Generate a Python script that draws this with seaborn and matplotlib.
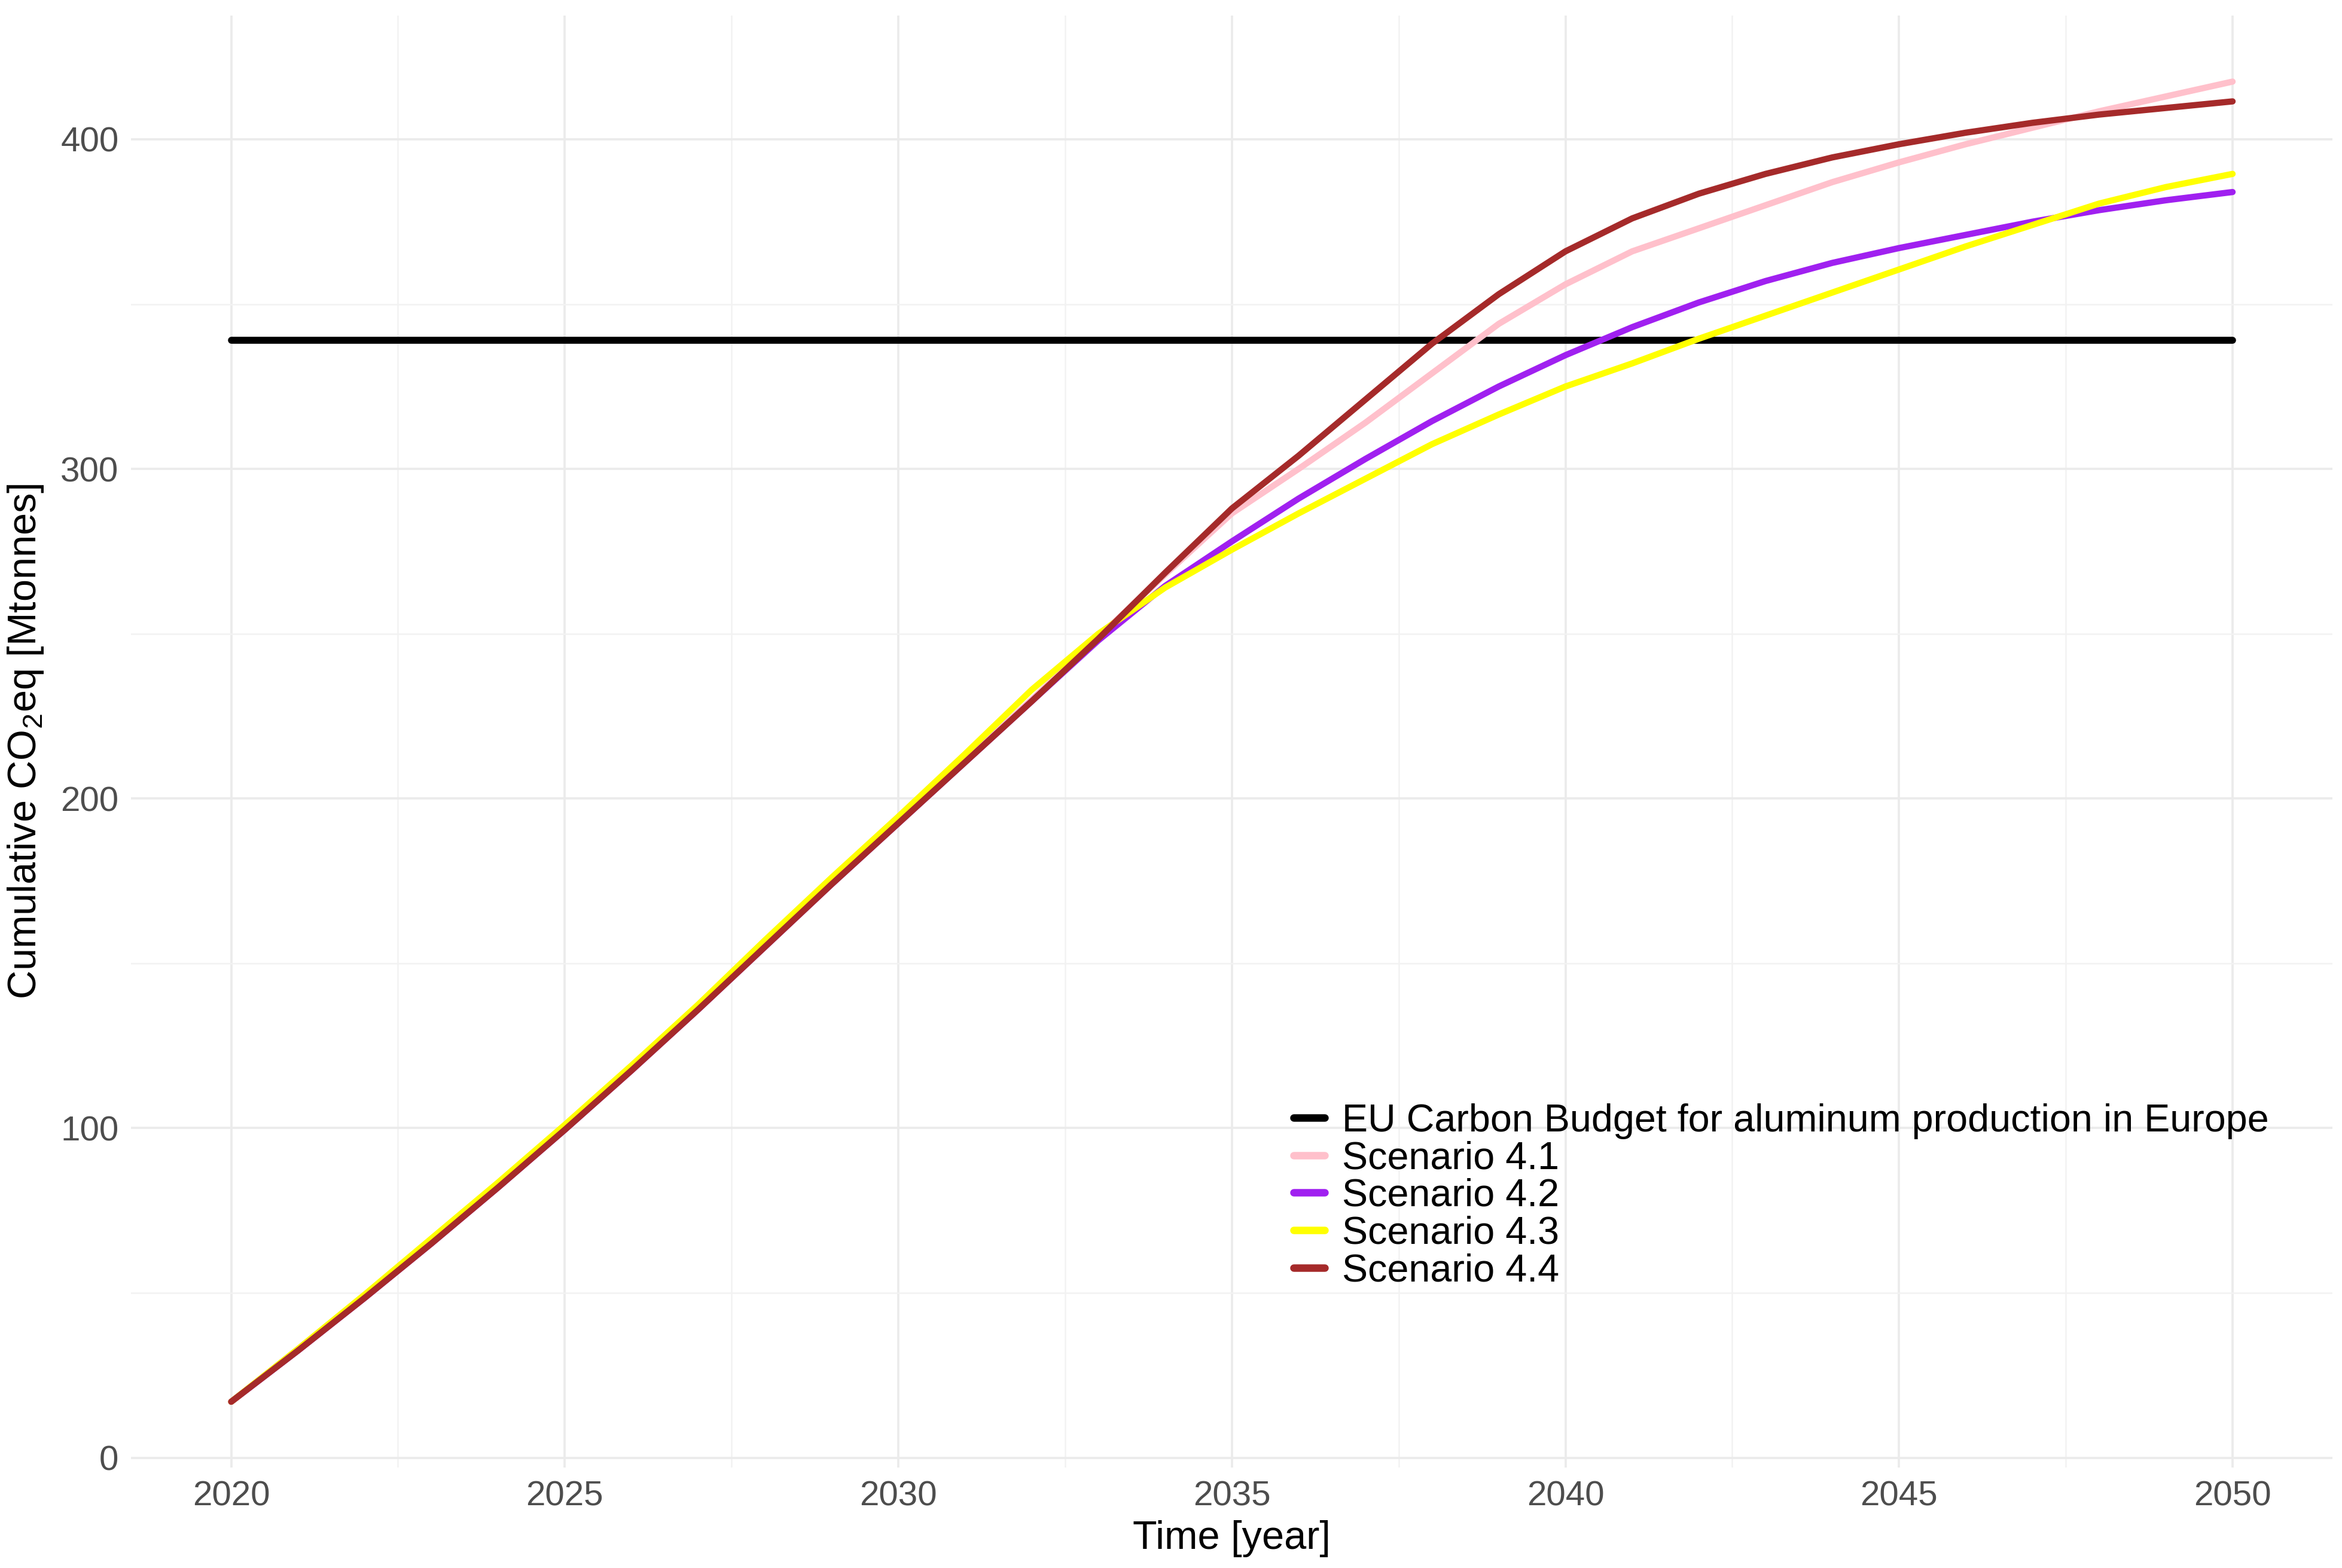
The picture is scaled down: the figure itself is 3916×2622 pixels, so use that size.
import numpy as np
import pandas as pd
import matplotlib
matplotlib.use("Agg")
import matplotlib.pyplot as plt
import seaborn as sns
from matplotlib.ticker import MultipleLocator

# data
years = list(range(2020, 2051))
budget_label = "EU Carbon Budget for aluminum production in Europe"
budget_value = 339

scenario_names = ["Scenario 4.1", "Scenario 4.2", "Scenario 4.3", "Scenario 4.4"]
s41 = [17, 32.5, 48.5, 65, 82, 99.5, 117.5, 136, 155, 174, 193, 211.5, 230, 249, 268,
       286.5, 300, 314, 329, 344, 356, 366, 373, 380, 387, 393, 398.5, 403.5, 408.5, 413, 417.5]
s42 = [17, 32.5, 48.5, 65, 82, 99.5, 117.5, 136, 155, 174, 192.5, 211, 229.5, 248, 264.5,
       278, 291, 303, 314.5, 325, 334.5, 343, 350.5, 357, 362.5, 367, 371, 375, 378.5, 381.5, 384]
s43 = [17, 33, 49.5, 66.5, 83.5, 101, 119, 137.5, 157, 176, 194.5, 213.5, 233, 250, 264,
       275.5, 286.5, 297, 307.5, 316.5, 325, 332, 339.5, 346.5, 353.5, 360.5, 367.5, 374, 380.5, 385.5, 389.5]
s44 = [17, 32.5, 48.5, 65, 82, 99.5, 117.5, 136, 155, 174, 192.5, 211, 229.5, 248.5, 268.5,
       288, 304, 321, 338, 353, 366, 376, 383.5, 389.5, 394.5, 398.5, 402, 405, 407.5, 409.5, 411.5]
colors = ["#FFC0CB", "#A020F0", "#FFFF00", "#A52A2A"]

x_ticks = [2020, 2025, 2030, 2035, 2040, 2045, 2050]
y_ticks = [0, 100, 200, 300, 400]

# long format for seaborn
df = pd.DataFrame({
    "Year": years * 4,
    "Value": s41 + s42 + s43 + s44,
    "Series": sum([[n] * len(years) for n in scenario_names], []),
})
df_budget = pd.DataFrame({"Year": [years[0], years[-1]],
                          "Value": [budget_value, budget_value],
                          "Series": [budget_label, budget_label]})

sns.set_style("white")
plt.rcParams["font.family"] = ["Liberation Sans", "DejaVu Sans"]
plt.rcParams["mathtext.fontset"] = "custom"
plt.rcParams["mathtext.rm"] = "Liberation Sans"
plt.rcParams["text.color"] = "black"
plt.rcParams["axes.labelcolor"] = "black"

fig, ax = plt.subplots(figsize=(3916 / 300, 2622 / 300), dpi=300)
fig.subplots_adjust(left=0.056, right=0.996, top=0.990, bottom=0.064)

sns.lineplot(data=df_budget, x="Year", y="Value", hue="Series",
             palette={budget_label: "black"}, linewidth=2.8, ax=ax)
sns.lineplot(data=df, x="Year", y="Value", hue="Series", hue_order=scenario_names,
             palette=dict(zip(scenario_names, colors)), linewidth=2.5, ax=ax)

ax.set_xlim(2018.5, 2051.5)
ax.set_ylim(-3, 437.5)
ax.set_xticks(x_ticks)
ax.set_yticks(y_ticks)
ax.xaxis.set_minor_locator(MultipleLocator(2.5))
ax.yaxis.set_minor_locator(MultipleLocator(50))
ax.grid(which="major", color="#EBEBEB", linewidth=0.9)
ax.grid(which="minor", color="#F2F2F2", linewidth=0.6)
ax.set_axisbelow(True)
for s in ax.spines.values():
    s.set_visible(False)
ax.tick_params(which="both", length=0)
ax.tick_params(axis="both", labelsize=14, labelcolor="#4D4D4D")
ax.tick_params(axis="x", pad=5)
ax.tick_params(axis="y", pad=5)

ax.set_xlabel("Time [year]", fontsize=16, labelpad=3)
ax.set_ylabel("Cumulative CO$_\\mathregular{2}$eq [Mtonnes]", fontsize=16, labelpad=6)

leg = ax.legend(loc="upper left", bbox_to_anchor=(0.528, 0.251), frameon=False,
                fontsize=15.5, handlelength=0.8, handletextpad=0.45,
                labelspacing=0.04, borderpad=0, borderaxespad=0)
for line in leg.get_lines():
    line.set_linewidth(3)
for t in leg.get_texts():
    t.set_color("black")

fig.savefig("out.png", dpi=300)
